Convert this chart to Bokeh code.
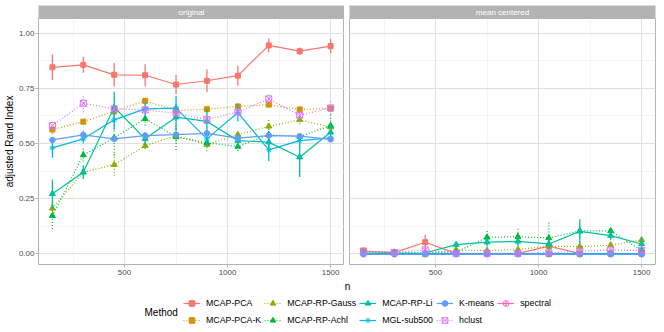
from bokeh.plotting import figure
from bokeh.layouts import column, row
from bokeh.models import FixedTicker, Legend, LegendItem, Label, Range1d
from bokeh.embed import file_html
from bokeh.resources import INLINE

# ---------------- data ----------------
n_values = [150, 300, 450, 600, 750, 900, 1050, 1200, 1350, 1500]
methods = ["MCAP-PCA", "MCAP-PCA-K", "MCAP-RP-Gauss", "MCAP-RP-Achl", "MCAP-RP-Li",
           "MGL-sub500", "K-means", "hclust", "spectral"]
panel_titles = ["original", "mean centered"]
x_ticks = [500, 1000, 1500]
y_ticks = [0.0, 0.25, 0.5, 0.75, 1.0]
y_tick_labels = ["0.00", "0.25", "0.50", "0.75", "1.00"]

# original
orig_mcap_pca = [0.845, 0.856, 0.811, 0.809, 0.767, 0.784, 0.807, 0.944, 0.918, 0.941]
orig_mcap_pca_err = [0.058, 0.036, 0.053, 0.050, 0.043, 0.051, 0.045, 0.031, 0.017, 0.031]
orig_mcap_pca_k = [0.563, 0.599, 0.645, 0.693, 0.649, 0.655, 0.668, 0.676, 0.654, 0.658]
orig_mcap_pca_k_err = [0.020, 0.012, 0.015, 0.018, 0.015, 0.010, 0.010, 0.012, 0.015, 0.012]
orig_gauss = [0.207, 0.370, 0.404, 0.490, 0.535, 0.495, 0.540, 0.578, 0.607, 0.574]
orig_gauss_err = [0.030, 0.030, 0.050, 0.015, 0.030, 0.030, 0.020, 0.030, 0.020, 0.020]
orig_achl = [0.173, 0.448, 0.525, 0.612, 0.530, 0.503, 0.486, 0.540, 0.531, 0.581]
orig_achl_err = [0.060, 0.030, 0.080, 0.030, 0.060, 0.020, 0.020, 0.030, 0.020, 0.050]
orig_li = [0.272, 0.370, 0.664, 0.521, 0.619, 0.600, 0.513, 0.506, 0.438, 0.551]
orig_li_err = [0.065, 0.030, 0.070, 0.030, 0.060, 0.055, 0.030, 0.030, 0.090, 0.040]
orig_mgl = [0.480, 0.521, 0.607, 0.657, 0.660, 0.521, 0.640, 0.471, 0.513, 0.525]
orig_mgl_err = [0.045, 0.020, 0.045, 0.030, 0.055, 0.030, 0.040, 0.050, 0.020, 0.020]
orig_kmeans = [0.516, 0.539, 0.521, 0.536, 0.540, 0.546, 0.524, 0.536, 0.533, 0.519]
orig_kmeans_err = [0.010, 0.020, 0.008, 0.010, 0.010, 0.010, 0.008, 0.008, 0.008, 0.008]
orig_hclust = [0.581, 0.682, 0.657, 0.652, 0.637, 0.608, 0.642, 0.702, 0.628, 0.661]
orig_hclust_err = [0.015, 0.040, 0.010, 0.010, 0.010, 0.010, 0.010, 0.025, 0.020, 0.030]
orig_spectral = []
orig_spectral_err = []

# mean centered
mc_mcap_pca = [0.012, 0.006, 0.053, 0.001, 0.001, 0.001, 0.035, 0.001, 0.001, 0.001]
mc_mcap_pca_err = [0.005, 0.005, 0.034, 0.003, 0.002, 0.002, 0.020, 0.002, 0.002, 0.002]
mc_mcap_pca_k = [0.015, 0.003, 0.000, 0.002, 0.002, 0.002, 0.000, 0.002, 0.002, 0.002]
mc_mcap_pca_k_err = [0.004, 0.002, 0.002, 0.002, 0.002, 0.002, 0.002, 0.002, 0.002, 0.002]
mc_gauss = [0.008, 0.008, 0.002, 0.018, 0.015, 0.020, 0.035, 0.033, 0.040, 0.063]
mc_gauss_err = [0.004, 0.004, 0.003, 0.012, 0.008, 0.010, 0.015, 0.015, 0.020, 0.020]
mc_achl = [0.004, 0.004, 0.003, 0.008, 0.075, 0.078, 0.072, 0.104, 0.104, 0.015]
mc_achl_err = [0.003, 0.003, 0.003, 0.006, 0.030, 0.036, 0.070, 0.030, 0.020, 0.020]
mc_li = [0.003, 0.003, 0.004, 0.042, 0.053, 0.057, 0.045, 0.102, 0.083, 0.045]
mc_li_err = [0.002, 0.002, 0.002, 0.010, 0.020, 0.020, 0.020, 0.055, 0.020, 0.030]
mc_mgl = [0.001, 0.001, 0.001, 0.001, 0.001, 0.001, 0.001, 0.001, 0.001, 0.001]
mc_mgl_err = [0.002, 0.002, 0.002, 0.002, 0.002, 0.002, 0.002, 0.002, 0.002, 0.002]
mc_kmeans = [-0.002, -0.002, -0.002, -0.002, -0.002, -0.002, -0.002, -0.002, -0.002, -0.002]
mc_kmeans_err = [0.001, 0.001, 0.001, 0.001, 0.001, 0.001, 0.001, 0.001, 0.001, 0.001]
mc_hclust = [0.012, 0.006, 0.018, 0.003, 0.003, 0.003, 0.005, 0.012, 0.018, 0.015]
mc_hclust_err = [0.003, 0.003, 0.004, 0.002, 0.002, 0.002, 0.002, 0.004, 0.004, 0.004]
mc_spectral = []
mc_spectral_err = []

# ---------------- styles ----------------
colors = ["#F8766D", "#D39200", "#93AA00", "#00BA38", "#00C19F",
          "#00B9E3", "#619CFF", "#DB72FB", "#FF61C3"]
markers = ["square", "square", "triangle", "triangle", "triangle",
           "asterisk", "circle", "square_x", "circle_cross"]
filled = [True, True, True, True, True, False, True, False, False]
sizes = [5, 5, 6, 6, 6, 6, 5.5, 6, 6]
dotted = [False, True, True, True, False, False, False, True, False]
DOT = "1 2"

panel_values = [
    [orig_mcap_pca, orig_mcap_pca_k, orig_gauss, orig_achl, orig_li, orig_mgl, orig_kmeans, orig_hclust, orig_spectral],
    [mc_mcap_pca, mc_mcap_pca_k, mc_gauss, mc_achl, mc_li, mc_mgl, mc_kmeans, mc_hclust, mc_spectral],
]
panel_errs = [
    [orig_mcap_pca_err, orig_mcap_pca_k_err, orig_gauss_err, orig_achl_err, orig_li_err, orig_mgl_err, orig_kmeans_err, orig_hclust_err, orig_spectral_err],
    [mc_mcap_pca_err, mc_mcap_pca_k_err, mc_gauss_err, mc_achl_err, mc_li_err, mc_mgl_err, mc_kmeans_err, mc_hclust_err, mc_spectral_err],
]

FONT = "Liberation Sans"
W = 306
H = 246
BL = 38
GAP = 5
BR = 1
STRIP_H = 13
STRIP_TOP = 5
BOTTOM = 16


def add_series(p, xs, ys, errs, i, with_err=True):
    dash = DOT if dotted[i] else "solid"
    c = colors[i]
    if with_err and len(ys) > 0:
        lo = [y - e for y, e in zip(ys, errs)]
        hi = [y + e for y, e in zip(ys, errs)]
        p.segment(x0=xs, y0=lo, x1=xs, y1=hi, line_color=c, line_width=1.3, line_dash=dash)
    r_line = p.line(xs[:len(ys)], ys, line_color=c, line_width=1.2, line_dash=dash)
    r_pt = p.scatter(xs[:len(ys)], ys, marker=markers[i], size=sizes[i],
                     fill_color=c if filled[i] else None, line_color=c,
                     line_width=1.0)
    return r_line, r_pt


def make_strip(title, left_border, right_border):
    s = figure(title=None, frame_width=W, frame_height=STRIP_H, min_border_left=left_border,
               min_border_right=right_border, min_border_top=STRIP_TOP, min_border_bottom=0,
               x_range=Range1d(0, 1), y_range=Range1d(0, 1),
               x_axis_location=None, y_axis_location=None,
               toolbar_location=None, output_backend="svg")
    s.background_fill_color = "#B3B3B3"
    s.border_fill_color = "white"
    s.outline_line_color = None
    s.grid.visible = False
    s.add_layout(Label(x=0.5, y=0.5, text=title, text_align="center",
                       text_baseline="middle", text_color="white",
                       text_font=FONT, text_font_size="8px"))
    return s


def make_panel(idx, show_y, left_border, right_border):
    p = figure(title=None, frame_width=W, frame_height=H,
               x_range=Range1d(82.5, 1567.5), y_range=Range1d(-0.048, 1.066),
               min_border_left=left_border, min_border_right=right_border,
               min_border_top=0, min_border_bottom=BOTTOM,
               y_axis_location="left" if show_y else None,
               toolbar_location=None, output_backend="svg")
    p.background_fill_color = "white"
    p.outline_line_color = "#B3B3B3"
    p.outline_line_width = 1
    p.xaxis.ticker = FixedTicker(ticks=x_ticks, minor_ticks=[250, 750, 1250])
    p.xgrid.ticker = FixedTicker(ticks=x_ticks, minor_ticks=[250, 750, 1250])
    p.ygrid.ticker = FixedTicker(ticks=y_ticks, minor_ticks=[0.125, 0.375, 0.625, 0.875])
    for g in p.grid:
        g.grid_line_color = "#E0E0E0"
        g.grid_line_width = 1
        g.minor_grid_line_color = "#EFEFEF"
        g.minor_grid_line_width = 0.6
    axes = list(p.xaxis) + (list(p.yaxis) if show_y else [])
    for ax in axes:
        ax.axis_line_color = None
        ax.major_tick_line_color = "#B3B3B3"
        ax.major_tick_in = 0
        ax.major_tick_out = 3
        ax.minor_tick_line_color = None
        ax.major_label_text_color = "#4D4D4D"
        ax.major_label_text_font = FONT
        ax.major_label_text_font_size = "8px"
        ax.major_label_standoff = 1
    if show_y:
        p.yaxis.ticker = FixedTicker(ticks=y_ticks)
        p.yaxis.major_label_overrides = {t: l for t, l in zip(y_ticks, y_tick_labels)}
        p.yaxis.axis_label = "adjusted Rand Index"
        p.yaxis.axis_label_text_font = FONT
        p.yaxis.axis_label_text_font_size = "10px"
        p.yaxis.axis_label_text_font_style = "normal"
        p.yaxis.axis_label_text_color = "black"
        p.yaxis.axis_label_standoff = 1
    for i in range(len(methods)):
        add_series(p, n_values, panel_values[idx][i], panel_errs[idx][i], i)
    return p


s1 = make_strip(panel_titles[0], BL, 0)
s2 = make_strip(panel_titles[1], GAP, BR)
p1 = make_panel(0, True, BL, 0)
p2 = make_panel(1, False, GAP, BR)

TOTAL_W = BL + W + GAP + W + BR
LEG_H = 48
LX0 = -5000  # legend canvas: keeps the key renderers' data outside the visible range
leg = figure(title=None, width=TOTAL_W, height=LEG_H, x_range=Range1d(LX0, LX0 + TOTAL_W),
             y_range=Range1d(0, LEG_H), min_border=0, x_axis_location=None, y_axis_location=None,
             toolbar_location=None, output_backend="svg")
leg.outline_line_color = None
leg.grid.visible = False

items = {}
for i, m in enumerate(methods):
    vals = panel_values[0][i] if len(panel_values[0][i]) > 0 else panel_values[0][0]
    rl, rp = add_series(leg, n_values, vals, [], i, with_err=False)
    items[m] = LegendItem(label=m, renderers=[rl, rp])

order = ["MCAP-PCA", "MCAP-RP-Gauss", "MCAP-RP-Li", "K-means", "spectral",
         "MCAP-PCA-K", "MCAP-RP-Achl", "MGL-sub500", "hclust"]
legend = Legend(items=[items[m] for m in order], orientation="horizontal", nrows=2,
                location=(183, 1), label_text_font=FONT, label_text_font_size="8.8px",
                label_text_color="black", glyph_width=17, glyph_height=14, label_height=14,
                label_standoff=6, spacing=3, padding=0, margin=0,
                border_line_color=None, background_fill_alpha=0)
leg.add_layout(legend, "center")
leg.add_layout(Label(x=LX0 + 347, y=LEG_H - 6, text="n", text_align="center", text_baseline="middle",
                     text_font=FONT, text_font_size="10px", text_color="black"))
leg.add_layout(Label(x=LX0 + 144, y=LEG_H - 32, text="Method", text_align="left", text_baseline="middle",
                     text_font=FONT, text_font_size="10px", text_color="black"))

layout = column(row(column(s1, p1), column(s2, p2)), leg)
open("out.html", "w").write(file_html(layout, INLINE))
